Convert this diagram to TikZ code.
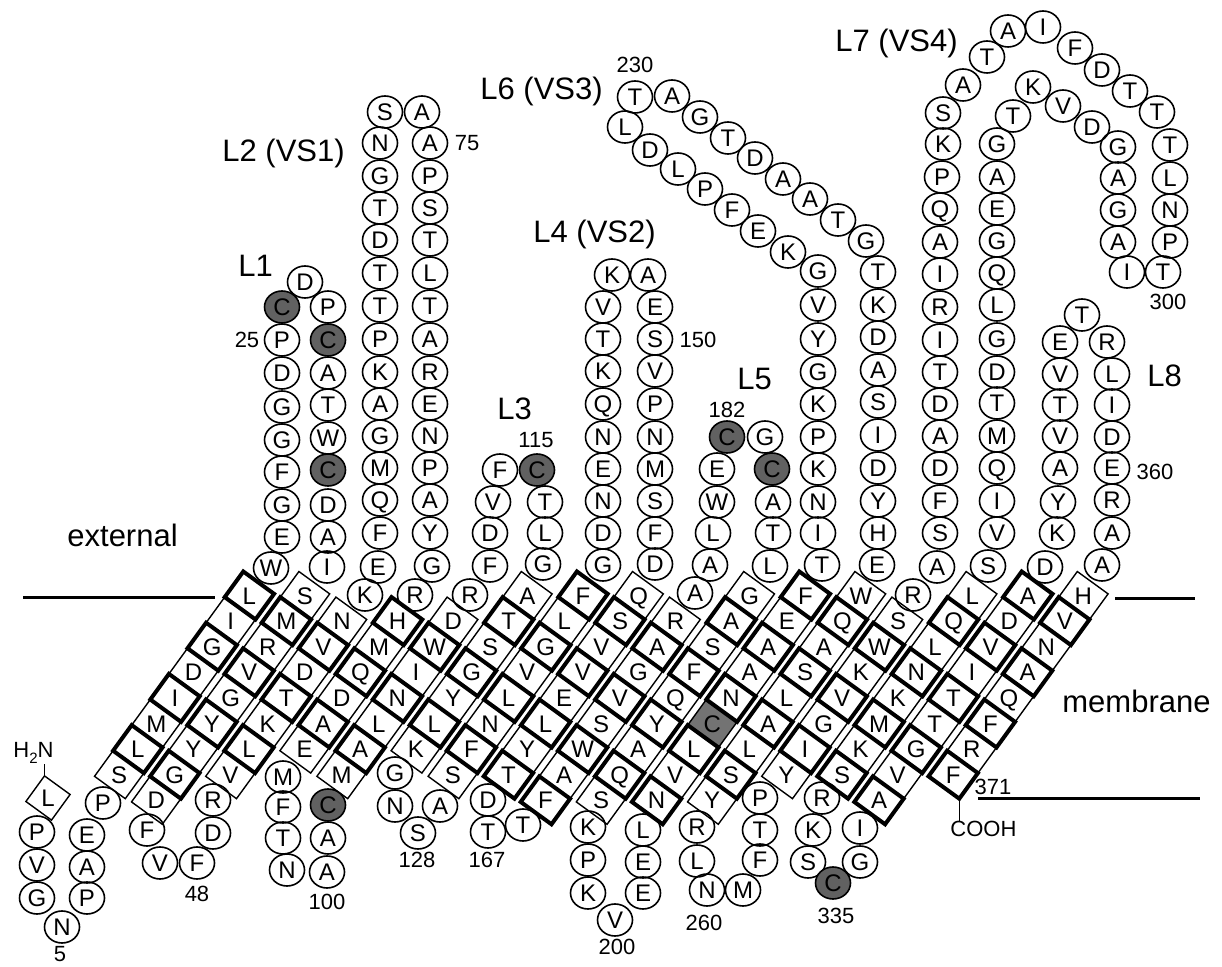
\documentclass[tikz,border=0pt]{standalone}
\usepackage{fontspec}
\setmainfont{Liberation Sans}
\usetikzlibrary{shapes.geometric}
\newcommand\tmres[5]{%
  \pgfmathsetmacro\tmx{193.8+55.6*#1-18.6*#2}%
  \pgfmathsetmacro\tmy{595.5+25.6*#2}%
  \ifcase#4\relax
    \draw[tmthin] (\tmx+24.69,\tmy-1.62) -- (\tmx-6.09,\tmy-23.98) -- (\tmx-24.69,\tmy+1.62) -- (\tmx+6.09,\tmy+23.98) -- cycle;
  \or
    \draw[tmbold] (\tmx+24.69,\tmy-1.62) -- (\tmx-6.09,\tmy-23.98) -- (\tmx-24.69,\tmy+1.62) -- (\tmx+6.09,\tmy+23.98) -- cycle;
  \or
    \draw[tmgray] (\tmx+24.69,\tmy-1.62) -- (\tmx-6.09,\tmy-23.98) -- (\tmx-24.69,\tmy+1.62) -- (\tmx+6.09,\tmy+23.98) -- cycle;
  \fi
  \node[res] (r#5) at (\tmx,\tmy) {#3};}
\begin{document}
\begin{tikzpicture}[x=0.5pt,y=-0.5pt,
  res/.style={inner sep=0pt,font=\fontsize{12}{12}\selectfont,text height=8.6pt,text depth=0pt},
  circ/.style={res,ellipse,draw,line width=0.8pt,minimum width=17.5pt,minimum height=16pt},
  dark/.style={circ,fill=black!62},
  tmthin/.style={line width=0.7pt,line join=miter},
  tmbold/.style={line width=2pt,line join=miter},
  tmgray/.style={line width=0.7pt,fill=black!55},
  num/.style={font=\fontsize{11}{11}\selectfont,inner sep=0pt,anchor=base},
  lab/.style={font=\fontsize{15.5}{15.5}\selectfont,inner sep=0pt,anchor=base west},
  memline/.style={line width=1.5pt}]
\useasboundingbox (0,0) rectangle (1222,967);

% membrane lines
\draw[memline] (23,598) -- (215,598);
\draw[memline] (1115,599) -- (1195,599);
\draw[memline] (978,799) -- (1200,799);

% transmembrane strands
\foreach \b/\r/\l/\s/\i in {
 1/7/S/0/10, 1/6/L/1/11, 1/5/M/0/12, 1/4/I/1/13, 1/3/D/0/14, 1/2/G/1/15, 1/1/I/0/16, 1/0/L/1/17,
 2/0/S/0/37, 2/1/M/1/38, 2/2/R/0/39, 2/3/V/1/40, 2/4/G/0/41, 2/5/Y/1/42, 2/6/Y/0/43, 2/7/G/1/44, 2/8/D/0/45,
 3/7/V/0/51, 3/6/L/1/52, 3/5/K/0/53, 3/4/T/1/54, 3/3/D/0/55, 3/2/V/1/56, 3/1/N/0/57,
 4/1/H/1/90, 4/2/M/0/91, 4/3/Q/1/92, 4/4/D/0/93, 4/5/A/1/94, 4/6/E/0/95,
 5/7/M/0/103, 5/6/A/1/104, 5/5/L/0/105, 5/4/N/1/106, 5/3/I/0/107, 5/2/W/1/108, 5/1/D/0/109,
 6/0/A/0/119, 6/1/T/1/120, 6/2/S/0/121, 6/3/G/1/122, 6/4/Y/0/123, 6/5/L/1/124, 6/6/K/0/125,
 7/7/S/0/130, 7/6/F/1/131, 7/5/N/0/132, 7/4/L/1/133, 7/3/V/0/134, 7/2/G/1/135, 7/1/L/0/136, 7/0/F/1/137,
 8/0/Q/0/158, 8/1/S/1/159, 8/2/V/0/160, 8/3/V/1/161, 8/4/E/0/162, 8/5/L/1/163, 8/6/Y/0/164, 8/7/T/1/165,
 9/8/F/1/169, 9/7/A/0/170, 9/6/W/1/171, 9/5/S/0/172, 9/4/V/1/173, 9/3/G/0/174, 9/2/A/1/175, 9/1/R/0/176,
 10/0/G/0/188, 10/1/A/1/189, 10/2/S/0/190, 10/3/F/1/191, 10/4/Q/0/192, 10/5/Y/1/193, 10/6/A/0/194, 10/7/Q/1/195, 10/8/S/0/196,
 11/5/C/2/207, 11/8/N/1/204, 11/7/V/0/205, 11/6/L/1/206, 11/4/N/1/208, 11/3/A/0/209, 11/2/A/1/210, 11/1/E/0/211, 11/0/F/1/212,
 12/0/W/0/249, 12/1/Q/1/250, 12/2/A/0/251, 12/3/S/1/252, 12/4/L/0/253, 12/5/A/1/254, 12/6/L/0/255, 12/7/S/1/256, 12/8/Y/0/257,
 13/7/Y/0/265, 13/6/I/1/266, 13/5/G/0/267, 13/4/V/1/268, 13/3/K/0/269, 13/2/W/1/270, 13/1/S/0/271,
 14/0/L/0/324, 14/1/Q/1/325, 14/2/L/0/326, 14/3/N/1/327, 14/4/K/0/328, 14/5/M/1/329, 14/6/K/0/330, 14/7/S/1/331,
 15/8/A/1/338, 15/7/V/0/339, 15/6/G/1/340, 15/5/T/0/341, 15/4/T/1/342, 15/3/I/0/343, 15/2/V/1/344, 15/1/D/0/345, 15/0/A/1/346,
 16/0/H/0/364, 16/1/V/1/365, 16/2/N/0/366, 16/3/A/1/367, 16/4/Q/0/368, 16/5/F/1/369, 16/6/R/0/370, 16/7/F/1/371}
 {\tmres{\b}{\r}{\l}{\s}{\i}}

% N-terminal residue
\draw[tmthin] (70.1,794.5) -- (44.5,775.9) -- (25.9,801.5) -- (51.5,820.1) -- cycle;
\node[res] (r1) at (48,798) {L};
\coordinate (r1top) at (44.5,775.9);

% loop residues
\foreach \i/\l/\x/\y in {
 2/P/37/832, 3/V/37/865, 4/G/37/898, 5/N/62/927, 6/P/87/898, 7/A/87/867, 8/E/87/835, 9/P/103/803,
 18/W/271/568, 19/E/282/537, 20/G/282/505, 21/F/282/472, 22/G/282/440, 23/G/282/407, 24/D/282/373, 25/P/282/340,
 27/D/305/282, 28/P/328/307, 30/A/328/373, 31/T/328/405, 32/W/328/438, 34/D/328/505, 35/A/328/537, 36/I/327/567,
 46/F/147/830, 47/V/160/863, 48/F/197/863, 49/D/213/833, 50/R/213/800,
 58/K/365/595, 59/E/378/567, 60/F/380/533, 61/Q/380/500, 62/M/380/468, 63/G/380/436, 64/A/380/404, 65/K/380/372,
 66/P/380/339, 67/T/380/306, 68/T/380/273, 69/D/380/240, 70/T/380/208, 71/G/380/176, 72/N/380/143, 73/S/385/112,
 74/A/422/112, 75/A/430/143, 76/P/430/176, 77/S/430/208, 78/T/430/240, 79/L/430/273, 80/T/430/306, 81/A/430/339,
 82/R/430/372, 83/E/430/404, 84/N/430/436, 85/P/430/468, 86/A/430/500, 87/Y/430/533, 88/G/432/566, 89/R/415/595,
 96/M/283/777, 97/F/283/807, 98/T/283/838, 99/N/287/870, 100/A/327/872, 101/A/328/838,
 110/R/470/595, 111/F/490/566, 112/D/490/533, 113/V/493/502, 114/F/500/470, 116/T/545/502, 117/L/545/533, 118/G/543/564,
 126/G/395/773, 127/N/395/806, 128/S/418/833, 129/A/440/806,
 138/G/603/565, 139/D/603/533, 140/N/603/501, 141/E/603/469, 142/N/603/437, 143/Q/603/404, 144/K/603/371, 145/T/603/339,
 146/V/603/307, 147/K/612/275, 148/A/648/275, 149/E/655/307, 150/S/655/339, 151/V/655/371, 152/P/655/404, 153/N/655/437,
 154/M/655/469, 155/S/655/501, 156/F/655/533, 157/D/655/564,
 166/D/488/800, 167/T/488/832, 168/T/523/825,
 177/A/695/593, 178/A/710/565, 179/L/713/533, 180/W/717/502, 181/E/717/469, 183/G/765/437, 185/A/773/502, 186/T/773/533, 187/L/770/566,
 197/K/588/827, 198/P/588/860, 199/K/588/893, 200/V/615/920, 201/E/643/893, 202/E/643/862, 203/L/643/830,
 213/T/822/565, 214/I/818/533, 215/N/818/502, 216/K/818/469, 217/P/818/437, 218/K/818/404, 219/G/818/372, 220/Y/818/339,
 221/V/818/305, 222/G/818/271, 223/K/788/252, 224/E/758/231, 225/F/732/210, 226/P/705/189, 227/L/678/169, 228/D/650/150,
 229/L/625/127, 230/T/635/97, 231/A/672/96, 232/G/700/117, 233/T/728/138, 234/D/755/158, 235/A/783/179, 236/A/810/199,
 237/T/838/220, 238/G/866/241, 239/T/878/272, 240/K/878/305, 241/D/878/337, 242/A/878/370, 243/S/878/402, 244/I/878/435,
 245/D/878/468, 246/Y/878/501, 247/H/878/533, 248/E/877/565,
 258/R/697/827, 259/L/697/861, 260/N/707/890, 261/M/743/890, 262/F/760/860, 263/T/760/830, 264/P/760/798,
 272/R/913/595, 273/A/937/567, 274/S/940/533, 275/F/940/501, 276/D/940/468, 277/A/940/436, 278/D/940/404, 279/T/940/372,
 280/I/940/340, 281/R/940/307, 282/I/940/274, 283/A/940/242, 284/Q/940/209, 285/P/942/177, 286/K/943/144, 287/S/943/113,
 288/A/963/85, 289/T/987/57, 290/A/1008/31, 291/I/1043/27, 292/F/1075/48, 293/D/1102/70, 294/T/1130/91, 295/T/1157/112,
 296/T/1170/145, 297/L/1170/178, 298/N/1170/210, 299/P/1170/242, 300/T/1163/272, 301/I/1127/272, 302/A/1118/242, 303/G/1118/210,
 304/A/1118/178, 305/G/1118/147, 306/D/1092/127, 307/V/1063/106, 308/K/1033/87, 309/T/1013/116, 310/G/997/144, 311/A/997/177,
 312/E/997/209, 313/G/997/241, 314/Q/997/273, 315/L/997/305, 316/G/997/339, 317/D/997/372, 318/T/997/403, 319/M/997/436,
 320/Q/997/468, 321/I/997/501, 322/V/997/533, 323/S/988/566,
 332/R/822/798, 333/K/813/830, 334/S/808/862, 336/G/860/862, 337/I/860/828,
 347/D/1045/567, 348/K/1057/533, 349/Y/1058/502, 350/A/1060/468, 351/V/1060/436, 352/T/1060/405, 353/V/1060/374, 354/E/1060/342,
 355/T/1082/315, 356/R/1107/342, 357/L/1112/374, 358/I/1112/405, 359/D/1112/437, 360/E/1112/468, 361/R/1112/500, 362/A/1112/533,
 363/A/1102/565}
 {\node[circ] (r\i) at (\x,\y) {\l};}

% cysteines
\foreach \i/\x/\y in {26/282/307, 29/328/340, 33/328/470, 102/328/805, 115/537/470, 182/727/437, 184/772/469, 335/833/883}
 {\node[dark] (r\i) at (\x,\y) {C};}

% termini
\node[font=\fontsize{11}{11}\selectfont,inner sep=0pt,anchor=base west] (nterm) at (13,758) {H\raisebox{-0.45ex}{\fontsize{7.5}{7.5}\selectfont 2}N};
\draw[line width=0.8pt] (r1top) -- (r1top |- nterm.south);
\coordinate (r371bot) at (959.3,798.7);
\node[font=\fontsize{11}{11}\selectfont,inner sep=0pt,anchor=base west] (cterm) at (950,837) {COOH};
\draw[line width=0.8pt] (r371bot) -- (r371bot |- cterm.north);

% numbers
\node[num] (n5) at (60,962) {5};
\node[num] (n25) at (247,348) {25};
\node[num] (n48) at (197,902) {48};
\node[num] (n75) at (467,151) {75};
\node[num] (n100) at (327,910) {100};
\node[num] (n115) at (536,448) {115};
\node[num] (n128) at (417,868) {128};
\node[num] (n150) at (698,348) {150};
\node[num] (n167) at (487,868) {167};
\node[num] (n182) at (727,418) {182};
\node[num] (n200) at (617,955) {200};
\node[num] (n230) at (635,73) {230};
\node[num] (n260) at (704,930) {260};
\node[num] (n300) at (1168,310) {300};
\node[num] (n335) at (836,923) {335};
\node[num] (n360) at (1155,480) {360};
\node[num] (n371) at (993,795) {371};

% loop and region labels
\node[lab] (l1) at (238,277) {L1};
\node[lab] (l2) at (222,162) {L2 (VS1)};
\node[lab] (l3) at (497,420) {L3};
\node[lab] (l4) at (533,243) {L4 (VS2)};
\node[lab] (l5) at (737,390) {L5};
\node[lab] (l6) at (480,100) {L6 (VS3)};
\node[lab] (l7) at (835,52) {L7 (VS4)};
\node[lab] (l8) at (1147,387) {L8};
\node[lab] (ext) at (67,547) {external};
\node[lab] (memb) at (1062,713) {membrane};
\end{tikzpicture}
\end{document}
